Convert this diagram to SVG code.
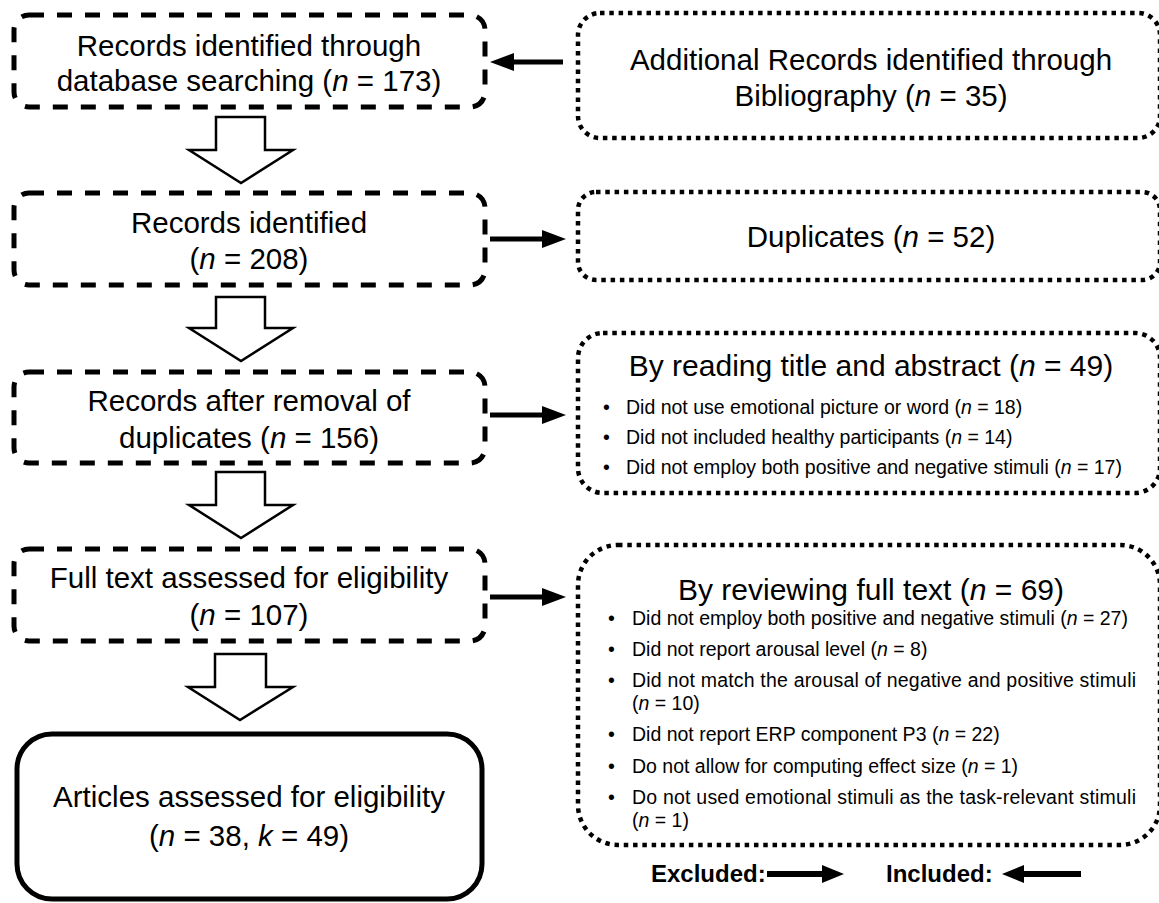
<svg xmlns="http://www.w3.org/2000/svg" width="1159" height="903" viewBox="0 0 1159 903">
<style>
.dash{fill:#fff;stroke:#000;stroke-width:5;stroke-dasharray:15 13}
.dot{fill:#fff;stroke:#000;stroke-width:4.5;stroke-dasharray:4.5 4.8}
.solid{fill:#fff;stroke:#000;stroke-width:5}
.t{font-family:"Liberation Sans",Arial,sans-serif;font-size:29.5px;text-anchor:middle;fill:#000}
.b{font-family:"Liberation Sans",Arial,sans-serif;font-size:19.5px;fill:#000}
.lg{font-family:"Liberation Sans",Arial,sans-serif;font-size:24px;font-weight:bold;fill:#000}
.hollow{fill:#fff;stroke:#000;stroke-width:2.5}
.conn{stroke:#000;stroke-width:5;fill:none}
</style>
<defs>
<marker id="ah" markerUnits="userSpaceOnUse" markerWidth="26" markerHeight="20" refX="14" refY="9" orient="auto">
<path d="M0,0 L24,9 L0,18 z" fill="#000"/>
</marker>
<marker id="ahl" markerUnits="userSpaceOnUse" markerWidth="26" markerHeight="22" refX="12" refY="9" orient="auto">
<path d="M0,0 L22,9 L0,18 z" fill="#000"/>
</marker>
</defs>
<rect width="1159" height="903" fill="#fff"/>

<g id="connectors">
<line class="conn" x1="563" y1="62" x2="500" y2="62" marker-end="url(#ah)"/>
<line class="conn" x1="490" y1="239" x2="556" y2="239" marker-end="url(#ah)"/>
<line class="conn" x1="490" y1="415" x2="556" y2="415" marker-end="url(#ah)"/>
<line class="conn" x1="490" y1="597" x2="556" y2="597" marker-end="url(#ah)"/>
<polygon class="hollow" points="216,117 265,117 265,150 293,150 241,183 189,150 216,150"/>
<polygon class="hollow" points="216,297 265,297 265,328 293,328 241,361 189,328 216,328"/>
<polygon class="hollow" points="216,472 265,472 265,505 293,505 241,538 189,505 216,505"/>
<polygon class="hollow" points="215,654 266,654 266,687 293,687 240,720 188,687 215,687"/>
</g>

<g id="node-db">
<rect class="dash" x="14" y="15" width="471" height="92" rx="15"/>
<text class="t" x="249" y="56">Records identified through</text>
<text class="t" x="249" y="91">database searching (<tspan font-style="italic">n</tspan> = 173)</text>
</g>

<g id="node-biblio">
<rect class="dot" x="578" y="13" width="582" height="125" rx="22"/>
<text class="t" x="871" y="70">Additional Records identified through</text>
<text class="t" x="871" y="106">Bibliography (<tspan font-style="italic">n</tspan> = 35)</text>
</g>

<g id="node-identified">
<rect class="dash" x="14" y="193" width="471" height="92" rx="15"/>
<text class="t" x="249" y="233">Records identified</text>
<text class="t" x="249" y="269">(<tspan font-style="italic">n</tspan> = 208)</text>
</g>

<g id="node-duplicates">
<rect class="dot" x="578" y="192" width="582" height="88" rx="18"/>
<text class="t" x="871" y="247">Duplicates (<tspan font-style="italic">n</tspan> = 52)</text>
</g>

<g id="node-after-removal">
<rect class="dash" x="14" y="372" width="471" height="91" rx="15"/>
<text class="t" x="249" y="411">Records after removal of</text>
<text class="t" x="249" y="448">duplicates (<tspan font-style="italic">n</tspan> = 156)</text>
</g>

<g id="node-title-abstract">
<rect class="dot" x="578" y="333" width="582" height="160" rx="25"/>
<text class="t" x="871" y="376" style="font-size:30px">By reading title and abstract (<tspan font-style="italic">n</tspan> = 49)</text>
<text class="b" x="603" y="414">•</text>
<text class="b" x="626" y="414">Did not use emotional picture or word (<tspan font-style="italic">n</tspan> = 18)</text>
<text class="b" x="603" y="444">•</text>
<text class="b" x="626" y="444">Did not included healthy participants (<tspan font-style="italic">n</tspan> = 14)</text>
<text class="b" x="603" y="474">•</text>
<text class="b" x="626" y="474">Did not employ both positive and negative stimuli (<tspan font-style="italic">n</tspan> = 17)</text>
</g>

<g id="node-fulltext">
<rect class="dash" x="14" y="549" width="471" height="92" rx="15"/>
<text class="t" x="249" y="588">Full text assessed for eligibility</text>
<text class="t" x="249" y="625">(<tspan font-style="italic">n</tspan> = 107)</text>
</g>

<g id="node-review">
<rect class="dot" x="578" y="545" width="582" height="300" rx="40"/>
<text class="t" x="871" y="600" style="font-size:30px">By reviewing full text (<tspan font-style="italic">n</tspan> = 69)</text>
<text class="b" x="608" y="625">•</text>
<text class="b" x="632" y="625">Did not employ both positive and negative stimuli (<tspan font-style="italic">n</tspan> = 27)</text>
<text class="b" x="608" y="656">•</text>
<text class="b" x="632" y="656">Did not report arousal level (<tspan font-style="italic">n</tspan> = 8)</text>
<text class="b" x="608" y="687">•</text>
<text class="b" x="632" y="687"><tspan textLength="504" lengthAdjust="spacing">Did not match the arousal of negative and positive stimuli</tspan><tspan x="632" dy="23">(</tspan><tspan font-style="italic">n</tspan><tspan> = 10)</tspan></text>
<text class="b" x="608" y="741">•</text>
<text class="b" x="632" y="741">Did not report ERP component P3 (<tspan font-style="italic">n</tspan> = 22)</text>
<text class="b" x="608" y="773">•</text>
<text class="b" x="632" y="773">Do not allow for computing effect size (<tspan font-style="italic">n</tspan> = 1)</text>
<text class="b" x="608" y="804">•</text>
<text class="b" x="632" y="804"><tspan textLength="504" lengthAdjust="spacing">Do not used emotional stimuli as the task-relevant stimuli</tspan><tspan x="632" dy="23">(</tspan><tspan font-style="italic">n</tspan><tspan> = 1)</tspan></text>
</g>

<g id="node-articles">
<rect class="solid" x="17" y="734" width="465" height="165" rx="35"/>
<text class="t" x="249" y="807">Articles assessed for eligibility</text>
<text class="t" x="249" y="846">(<tspan font-style="italic">n</tspan> = 38, <tspan font-style="italic">k</tspan> = 49)</text>
</g>

<g id="legend">
<text class="lg" x="651" y="882">Excluded:</text>
<line x1="767" y1="874" x2="834" y2="874" stroke="#000" stroke-width="6" marker-end="url(#ahl)"/>
<text class="lg" x="886" y="882">Included:</text>
<line x1="1081" y1="874" x2="1012" y2="874" stroke="#000" stroke-width="6" marker-end="url(#ahl)"/>
</g>
</svg>
